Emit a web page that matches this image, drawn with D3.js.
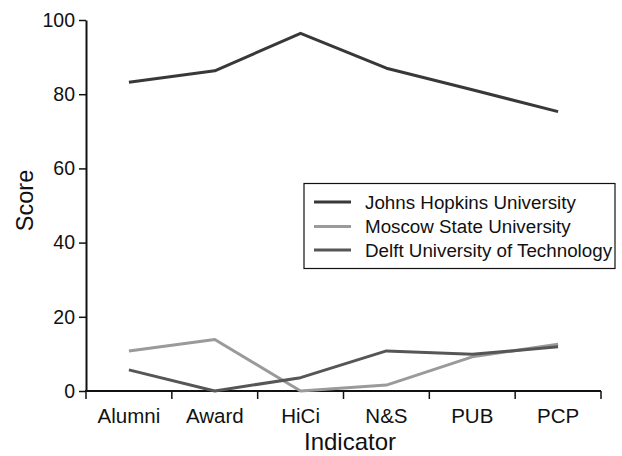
<!DOCTYPE html>
<html><head><meta charset="utf-8">
<script src="https://cdn.jsdelivr.net/npm/d3@7"></script>
<style>body{margin:0;background:#fff;} text{font-family:"Liberation Sans",Arial,Helvetica,sans-serif;fill:#111;}</style>
</head><body><svg id="c" width="622" height="456"></svg>
<script>
const categories = ["Alumni","Award","HiCi","N&S","PUB","PCP"];
const seriesNames = ["Johns Hopkins University","Moscow State University","Delft University of Technology"];
const johnsHopkins = [83.2, 86.3, 96.4, 87.0, 81.2, 75.3];
const moscowState = [10.8, 13.9, 0, 1.6, 9.2, 12.6];
const delft = [5.7, 0, 3.6, 10.8, 9.9, 11.9];
const yTicks = [0,20,40,60,80,100];
const colors = ["#383838","#9a9a9a","#565656"];
const seriesValues = [johnsHopkins, moscowState, delft];

const svg = d3.select("#c");
const x0 = 86, x1 = 601, yTop = 20, yBot = 391;
const x = d3.scaleBand().domain(categories).range([x0, x1]);
const y = d3.scaleLinear().domain([0,100]).range([yBot, yTop]);

// y axis
const ya = svg.append("g").attr("transform",`translate(${x0},0)`)
  .call(d3.axisLeft(y).tickValues(yTicks).tickSize(7).tickSizeOuter(0).tickPadding(4));
ya.select(".domain").attr("stroke","#111").attr("stroke-width",2);
ya.selectAll(".tick line").attr("stroke","#111").attr("stroke-width",1.5);
ya.selectAll(".tick text").attr("font-size",19.5).attr("fill","#111");

// x axis: ticks at band boundaries
const xa = svg.append("g").attr("transform",`translate(0,${yBot})`);
xa.append("line").attr("x1",x0-1).attr("x2",x1).attr("stroke","#111").attr("stroke-width",2);
const bounds = categories.map(c=>x(c)).concat([x1]);
xa.selectAll("line.tk").data(bounds).join("line").attr("class","tk")
  .attr("x1",d=>d).attr("x2",d=>d).attr("y1",0).attr("y2",8).attr("stroke","#111").attr("stroke-width",1.5);
xa.selectAll("text").data(categories).join("text")
  .attr("x",d=>x(d)+x.bandwidth()/2).attr("y",32).attr("text-anchor","middle")
  .attr("font-size",20.5).text(d=>d);

// axis titles
svg.append("text").attr("transform","translate(33,200.5) rotate(-90)").attr("text-anchor","middle")
  .attr("font-size",23.5).text("Score");
svg.append("text").attr("x",350).attr("y",449.5).attr("text-anchor","middle")
  .attr("font-size",24).text("Indicator");

// lines
const line = d3.line().x((d,i)=>x(categories[i])+x.bandwidth()/2).y(d=>y(d));
seriesValues.forEach((vals,k)=>{
  svg.append("path").datum(vals).attr("d",line).attr("fill","none")
    .attr("stroke",colors[k]).attr("stroke-width",3).attr("stroke-linejoin","round");
});

// legend
const lg = svg.append("g");
lg.append("rect").attr("x",304).attr("y",183.5).attr("width",311).attr("height",85)
  .attr("fill","#fff").attr("stroke","#111").attr("stroke-width",1.2);
const rowY = [202, 226.5, 250];
seriesNames.forEach((n,k)=>{
  lg.append("line").attr("x1",314).attr("x2",351).attr("y1",rowY[k]).attr("y2",rowY[k])
    .attr("stroke",colors[k]).attr("stroke-width",3);
  lg.append("text").attr("x",365).attr("y",rowY[k]).attr("dy","0.35em").attr("font-size",18.8).text(n);
});
</script></body></html>
